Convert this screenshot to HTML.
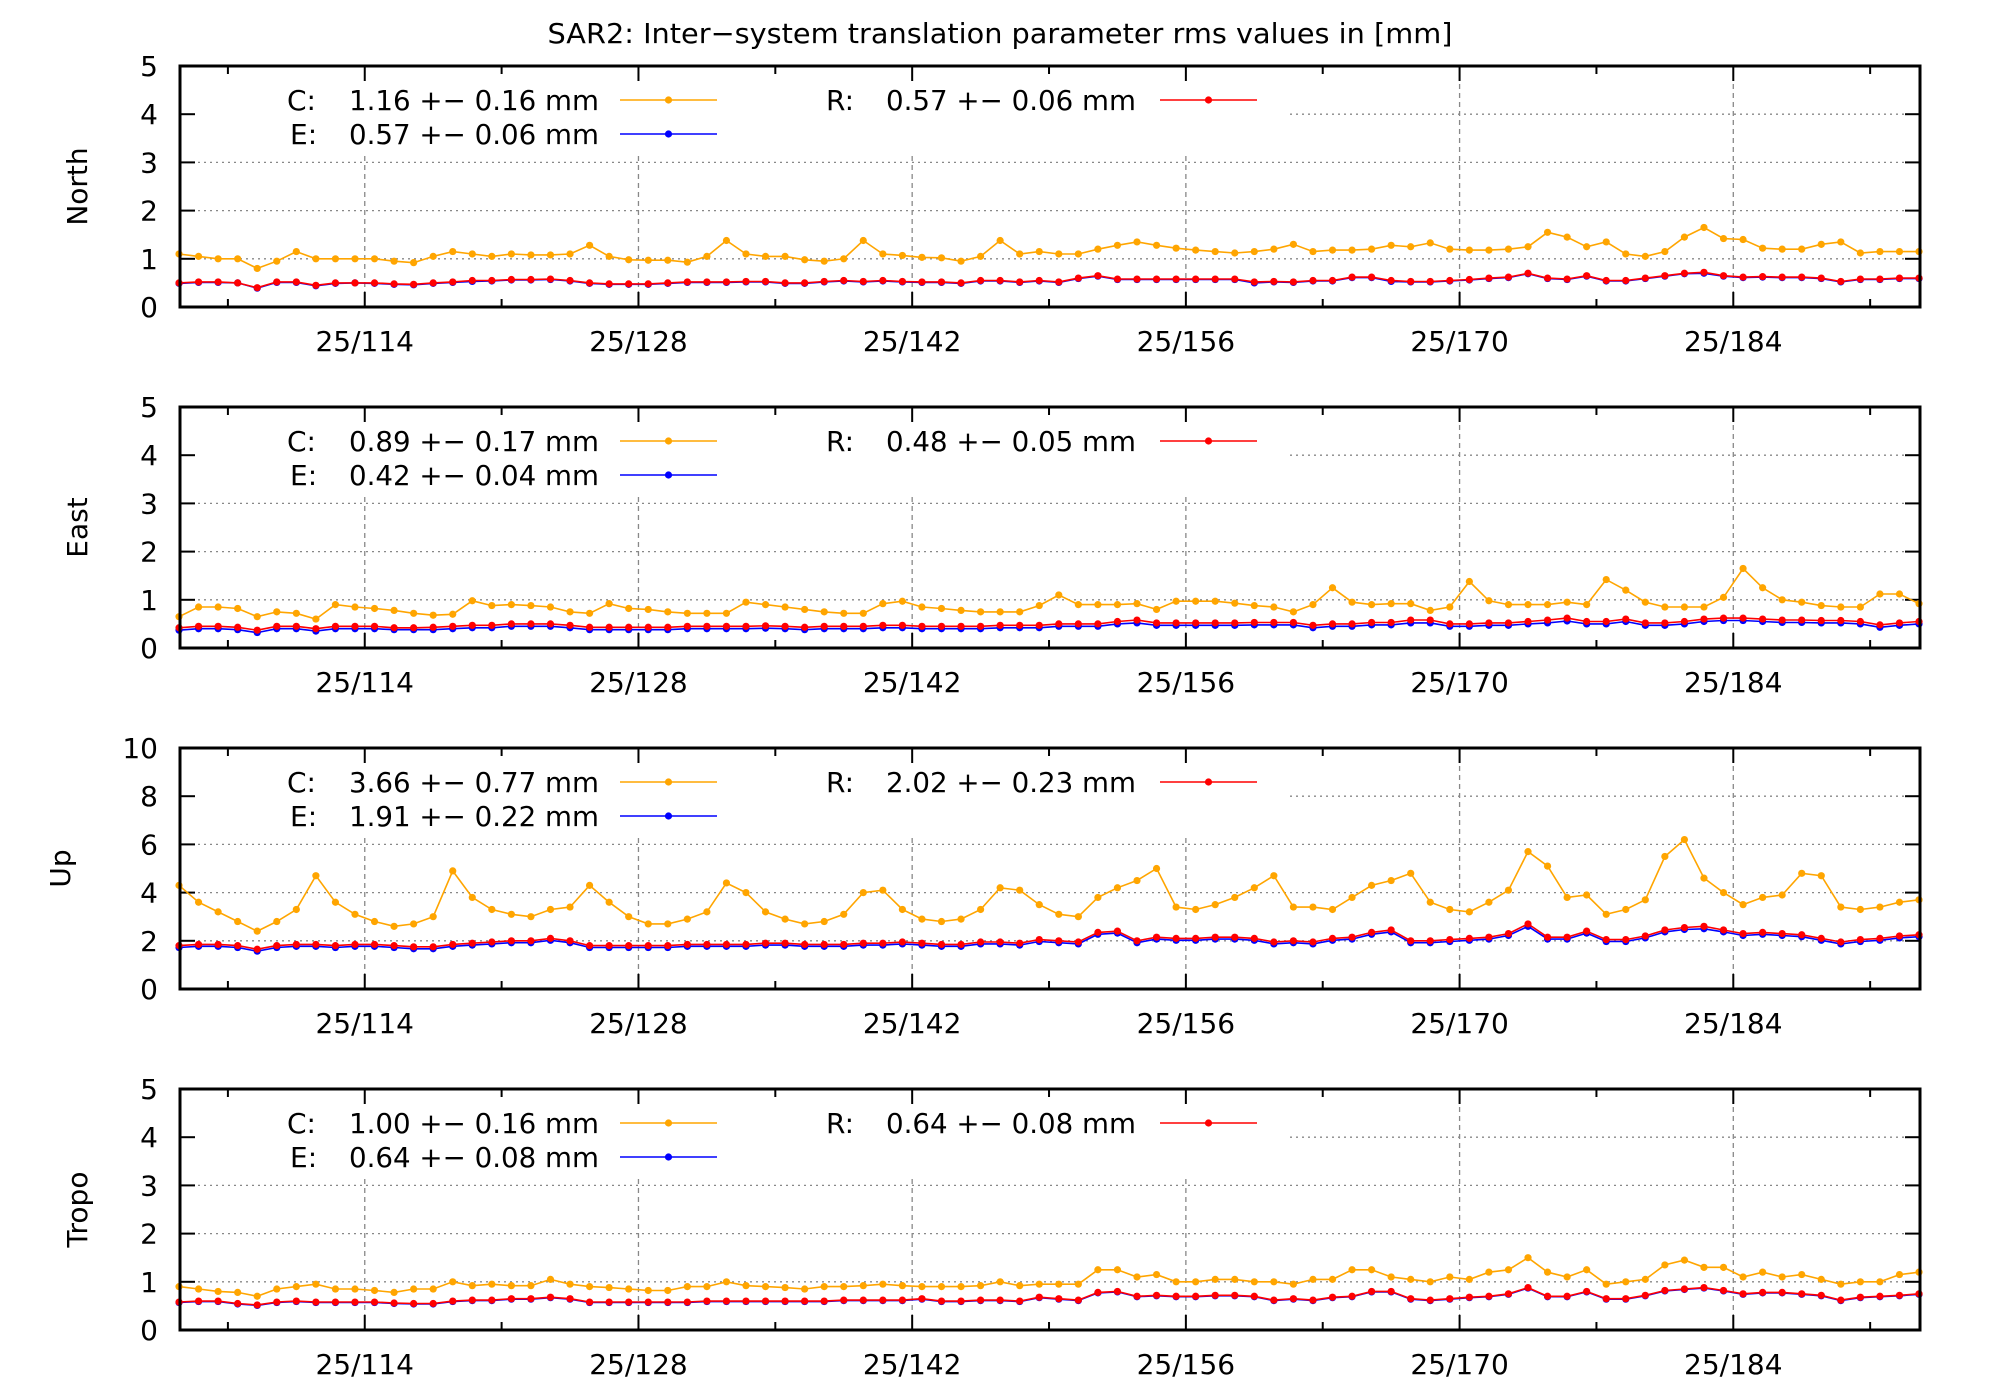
<!DOCTYPE html>
<html><head><meta charset="utf-8"><style>
html,body{margin:0;padding:0;background:#fff;}
svg{display:block;font-family:"DejaVu Sans","Liberation Sans",sans-serif;}
</style></head><body>
<svg id="chart" width="2000" height="1400" viewBox="0 0 2000 1400" xmlns="http://www.w3.org/2000/svg">
<rect width="2000" height="1400" fill="#fff"/>
<text x="1000" y="43" font-size="28" text-anchor="middle" textLength="905" lengthAdjust="spacingAndGlyphs">SAR2: Inter−system translation parameter rms values in [mm]</text>
<g id="panels"></g>
</svg>
<script>
const dayStart = 104.5;
const xMin = 104.55, xMax = 193.55;
const majorTicks = [114,128,142,156,170,184];
const minorTicks = [107,121,135,149,163,177,191];
const panelNames = ["North","East","Up","Tropo"];
const yMaxes = [5,5,10,5];
const yTicks5 = [0,1,2,3,4,5];
const yTicks10 = [0,2,4,6,8,10];
const legendC = ["1.16 +− 0.16 mm","0.89 +− 0.17 mm","3.66 +− 0.77 mm","1.00 +− 0.16 mm"];
const legendE = ["0.57 +− 0.06 mm","0.42 +− 0.04 mm","1.91 +− 0.22 mm","0.64 +− 0.08 mm"];
const legendR = ["0.57 +− 0.06 mm","0.48 +− 0.05 mm","2.02 +− 0.23 mm","0.64 +− 0.08 mm"];

const cN = [1.1,1.05,1.0,1.0,0.8,0.95,1.15,1.0,1.0,1.0,1.0,0.95,0.92,1.05,1.15,1.1,1.05,1.1,1.08,1.08,1.1,1.28,1.05,0.98,0.97,0.97,0.93,1.05,1.38,1.1,1.05,1.05,0.98,0.95,1.0,1.38,1.1,1.07,1.03,1.02,0.95,1.05,1.38,1.1,1.15,1.1,1.1,1.2,1.28,1.35,1.28,1.22,1.18,1.15,1.12,1.15,1.2,1.3,1.15,1.18,1.18,1.2,1.28,1.25,1.33,1.2,1.18,1.18,1.2,1.25,1.55,1.45,1.25,1.35,1.1,1.05,1.15,1.45,1.65,1.42,1.4,1.22,1.2,1.2,1.3,1.35,1.12,1.15,1.15,1.15];
const eN = [0.49,0.51,0.51,0.5,0.39,0.51,0.51,0.44,0.49,0.5,0.49,0.47,0.46,0.49,0.51,0.53,0.54,0.56,0.56,0.57,0.54,0.49,0.47,0.47,0.47,0.49,0.51,0.51,0.51,0.52,0.52,0.49,0.49,0.52,0.54,0.52,0.54,0.52,0.51,0.51,0.49,0.54,0.54,0.51,0.54,0.51,0.59,0.64,0.57,0.57,0.57,0.57,0.57,0.57,0.57,0.5,0.52,0.51,0.54,0.54,0.61,0.61,0.53,0.52,0.52,0.54,0.56,0.59,0.61,0.69,0.59,0.57,0.64,0.54,0.54,0.59,0.64,0.69,0.7,0.64,0.61,0.62,0.61,0.61,0.59,0.52,0.57,0.57,0.59,0.59];
const rN = [0.5,0.52,0.52,0.5,0.4,0.52,0.52,0.45,0.5,0.5,0.5,0.48,0.47,0.5,0.52,0.55,0.55,0.57,0.57,0.58,0.55,0.5,0.48,0.48,0.48,0.5,0.52,0.52,0.52,0.53,0.53,0.5,0.5,0.53,0.55,0.53,0.55,0.53,0.52,0.52,0.5,0.55,0.55,0.52,0.55,0.52,0.6,0.65,0.58,0.58,0.58,0.58,0.58,0.58,0.58,0.52,0.53,0.52,0.55,0.55,0.62,0.62,0.55,0.53,0.53,0.55,0.57,0.6,0.62,0.7,0.6,0.58,0.65,0.55,0.55,0.6,0.65,0.7,0.72,0.65,0.62,0.63,0.62,0.62,0.6,0.53,0.58,0.58,0.6,0.6];

const cE = [0.65,0.85,0.85,0.82,0.65,0.75,0.72,0.6,0.9,0.85,0.82,0.78,0.72,0.68,0.7,0.98,0.88,0.9,0.88,0.85,0.75,0.72,0.92,0.82,0.8,0.75,0.72,0.72,0.72,0.95,0.9,0.85,0.8,0.75,0.72,0.72,0.92,0.97,0.85,0.82,0.78,0.75,0.75,0.75,0.88,1.1,0.9,0.9,0.9,0.92,0.8,0.97,0.97,0.97,0.93,0.88,0.85,0.75,0.9,1.25,0.95,0.9,0.92,0.92,0.78,0.85,1.38,0.98,0.9,0.9,0.9,0.95,0.9,1.42,1.2,0.95,0.85,0.85,0.85,1.05,1.65,1.25,1.0,0.95,0.88,0.85,0.85,1.12,1.12,0.92];
const eE = [0.37,0.4,0.4,0.38,0.32,0.4,0.4,0.35,0.4,0.4,0.4,0.38,0.38,0.38,0.4,0.42,0.42,0.45,0.45,0.45,0.42,0.38,0.38,0.38,0.38,0.38,0.4,0.4,0.4,0.4,0.41,0.4,0.38,0.4,0.4,0.4,0.42,0.42,0.4,0.4,0.4,0.4,0.42,0.42,0.42,0.45,0.45,0.45,0.5,0.52,0.47,0.47,0.47,0.47,0.47,0.48,0.48,0.48,0.42,0.45,0.45,0.48,0.48,0.52,0.52,0.45,0.45,0.47,0.47,0.5,0.52,0.56,0.5,0.5,0.55,0.47,0.47,0.5,0.55,0.57,0.57,0.55,0.53,0.53,0.52,0.52,0.5,0.43,0.47,0.5];
const rE = [0.42,0.45,0.45,0.43,0.37,0.45,0.45,0.4,0.45,0.45,0.45,0.42,0.42,0.43,0.45,0.47,0.47,0.5,0.5,0.5,0.47,0.43,0.43,0.43,0.43,0.43,0.45,0.45,0.45,0.45,0.46,0.45,0.43,0.45,0.45,0.45,0.47,0.47,0.45,0.45,0.45,0.45,0.47,0.47,0.47,0.5,0.5,0.5,0.55,0.58,0.52,0.52,0.52,0.52,0.52,0.53,0.53,0.53,0.47,0.5,0.5,0.53,0.53,0.58,0.58,0.5,0.5,0.52,0.52,0.55,0.58,0.62,0.55,0.55,0.6,0.52,0.52,0.55,0.6,0.62,0.62,0.6,0.58,0.58,0.57,0.57,0.55,0.48,0.52,0.55];

const cU = [4.3,3.6,3.2,2.8,2.4,2.8,3.3,4.7,3.6,3.1,2.8,2.6,2.7,3.0,4.9,3.8,3.3,3.1,3.0,3.3,3.4,4.3,3.6,3.0,2.7,2.7,2.9,3.2,4.4,4.0,3.2,2.9,2.7,2.8,3.1,4.0,4.1,3.3,2.9,2.8,2.9,3.3,4.2,4.1,3.5,3.1,3.0,3.8,4.2,4.5,5.0,3.4,3.3,3.5,3.8,4.2,4.7,3.4,3.4,3.3,3.8,4.3,4.5,4.8,3.6,3.3,3.2,3.6,4.1,5.7,5.1,3.8,3.9,3.1,3.3,3.7,5.5,6.2,4.6,4.0,3.5,3.8,3.9,4.8,4.7,3.4,3.3,3.4,3.6,3.7];
const eU = [1.72,1.77,1.77,1.72,1.57,1.72,1.77,1.77,1.72,1.77,1.77,1.72,1.67,1.67,1.77,1.82,1.87,1.92,1.92,2.02,1.92,1.72,1.72,1.72,1.72,1.72,1.77,1.77,1.77,1.77,1.82,1.82,1.77,1.77,1.77,1.82,1.82,1.87,1.82,1.77,1.77,1.87,1.87,1.82,1.97,1.92,1.87,2.27,2.32,1.92,2.07,2.02,2.02,2.07,2.07,2.02,1.87,1.92,1.87,2.02,2.07,2.27,2.37,1.92,1.92,1.97,2.02,2.07,2.22,2.6,2.07,2.07,2.32,1.97,1.97,2.12,2.37,2.47,2.5,2.37,2.22,2.27,2.22,2.17,2.02,1.87,1.97,2.02,2.12,2.17];
const rU = [1.8,1.85,1.85,1.8,1.65,1.8,1.85,1.85,1.8,1.85,1.85,1.8,1.75,1.75,1.85,1.9,1.95,2.0,2.0,2.1,2.0,1.8,1.8,1.8,1.8,1.8,1.85,1.85,1.85,1.85,1.9,1.9,1.85,1.85,1.85,1.9,1.9,1.95,1.9,1.85,1.85,1.95,1.95,1.9,2.05,2.0,1.95,2.35,2.4,2.0,2.15,2.1,2.1,2.15,2.15,2.1,1.95,2.0,1.95,2.1,2.15,2.35,2.45,2.0,2.0,2.05,2.1,2.15,2.3,2.7,2.15,2.15,2.4,2.05,2.05,2.2,2.45,2.55,2.6,2.45,2.3,2.35,2.3,2.25,2.1,1.95,2.05,2.1,2.2,2.25];

const cT = [0.9,0.85,0.8,0.78,0.7,0.85,0.9,0.95,0.85,0.85,0.82,0.78,0.85,0.85,1.0,0.92,0.95,0.92,0.92,1.05,0.95,0.9,0.88,0.85,0.82,0.82,0.9,0.9,1.0,0.92,0.9,0.88,0.85,0.9,0.9,0.92,0.95,0.92,0.9,0.9,0.9,0.92,1.0,0.92,0.95,0.95,0.95,1.25,1.25,1.1,1.15,1.0,1.0,1.05,1.05,1.0,1.0,0.95,1.05,1.05,1.25,1.25,1.1,1.05,1.0,1.1,1.05,1.2,1.25,1.5,1.2,1.1,1.25,0.95,1.0,1.05,1.35,1.45,1.3,1.3,1.1,1.2,1.1,1.15,1.05,0.95,1.0,1.0,1.15,1.2];
const eT = [0.57,0.59,0.59,0.54,0.51,0.57,0.59,0.57,0.57,0.57,0.57,0.55,0.54,0.54,0.59,0.61,0.61,0.64,0.64,0.67,0.64,0.57,0.57,0.57,0.57,0.57,0.57,0.59,0.59,0.59,0.59,0.59,0.59,0.59,0.61,0.61,0.61,0.61,0.64,0.59,0.59,0.61,0.61,0.59,0.67,0.64,0.61,0.77,0.79,0.69,0.71,0.69,0.69,0.71,0.71,0.69,0.61,0.64,0.61,0.67,0.69,0.79,0.79,0.64,0.61,0.64,0.67,0.69,0.74,0.87,0.69,0.69,0.79,0.64,0.64,0.71,0.81,0.84,0.87,0.81,0.74,0.77,0.77,0.74,0.71,0.61,0.67,0.69,0.71,0.74];
const rT = [0.58,0.6,0.6,0.55,0.52,0.58,0.6,0.58,0.58,0.58,0.58,0.56,0.55,0.55,0.6,0.62,0.62,0.65,0.65,0.68,0.65,0.58,0.58,0.58,0.58,0.58,0.58,0.6,0.6,0.6,0.6,0.6,0.6,0.6,0.62,0.62,0.62,0.62,0.65,0.6,0.6,0.62,0.62,0.6,0.68,0.65,0.62,0.78,0.8,0.7,0.72,0.7,0.7,0.72,0.72,0.7,0.62,0.65,0.62,0.68,0.7,0.8,0.8,0.65,0.62,0.65,0.68,0.7,0.75,0.88,0.7,0.7,0.8,0.65,0.65,0.72,0.82,0.85,0.88,0.82,0.75,0.78,0.78,0.75,0.72,0.62,0.68,0.7,0.72,0.75];

const seriesC = [cN,cE,cU,cT];
const seriesE = [eN,eE,eU,eT];
const seriesR = [rN,rE,rU,rT];

const NS = "http://www.w3.org/2000/svg";
const L = 180, R = 1920, H = 241;
const tops = [66, 407, 748, 1089];
const ylabX = [87,87,70,87];
function mk(tag, attrs, parent){const e=document.createElementNS(NS,tag);for(const k in attrs)e.setAttribute(k,attrs[k]);parent.appendChild(e);return e;}
function xS(d){return L+(d-xMin)/(xMax-xMin)*(R-L);}
const root=document.getElementById('panels');

panelNames.forEach((name,p)=>{
  const T=tops[p], B=T+H, ym=yMaxes[p];
  const yS=v=>B-v/ym*H;
  const g=mk('g',{},root);
  
  
  const ticks = ym===10?yTicks10:yTicks5;
  ticks.forEach(t=>{ if(t>0&&t<ym){ const gl=mk('line',{x1:L,x2:R,y1:yS(t),y2:yS(t),stroke:'#888','stroke-width':1.3,'stroke-dasharray':'2,4'},g);   }});
  majorTicks.forEach(t=>{ const gl=mk('line',{x1:xS(t),x2:xS(t),y1:T,y2:B,stroke:'#888','stroke-width':1.3,'stroke-dasharray':'5,4'},g);   });
  const lb=mk('rect',{x:L+2,y:T+2,width:1285-L,height:86,fill:'#fff'},g);
  
  
  ticks.forEach(t=>{
    mk('line',{x1:L,x2:L+15,y1:yS(t),y2:yS(t),stroke:'#000','stroke-width':2},g);
    mk('line',{x1:R-15,x2:R,y1:yS(t),y2:yS(t),stroke:'#000','stroke-width':2},g);
    const tl=mk('text',{x:158,y:yS(t)+10,'font-size':28,'text-anchor':'end'},g);
    tl.textContent=t;
    
    
  });
  majorTicks.forEach(t=>{
    mk('line',{x1:xS(t),x2:xS(t),y1:B,y2:B-15,stroke:'#000','stroke-width':2},g);
    mk('line',{x1:xS(t),x2:xS(t),y1:T,y2:T+15,stroke:'#000','stroke-width':2},g);
    const tl=mk('text',{x:xS(t),y:B+44,'font-size':28,'text-anchor':'middle'},g);
    tl.textContent='25/'+t;
    
    
  });
  minorTicks.forEach(t=>{
    mk('line',{x1:xS(t),x2:xS(t),y1:B,y2:B-8,stroke:'#000','stroke-width':2},g);
    mk('line',{x1:xS(t),x2:xS(t),y1:T,y2:T+8,stroke:'#000','stroke-width':2},g);
  });
  const yl=mk('text',{x:ylabX[p],y:T+H/2,'font-size':28,'text-anchor':'middle',transform:`rotate(-90 ${ylabX[p]} ${T+H/2})`},g);
  yl.textContent=name;
  
  
  const drawS=(arr,color,nm)=>{
    const sg=mk('g',{},g);
    
    
    const pts=arr.map((v,i)=>[xS(dayStart+i),yS(v)]);
    const pl=mk('polyline',{points:pts.map(q=>q[0].toFixed(1)+','+q[1].toFixed(1)).join(' '),fill:'none',stroke:color,'stroke-width':1.6},sg);
    
    
    pts.forEach(q=>{
      const c=mk('circle',{cx:q[0],cy:q[1],r:3.6,fill:color},sg);
      
      
    });
  };
  drawS(seriesC[p],'#ffa500','c');
  drawS(seriesE[p],'#0000ff','e');
  drawS(seriesR[p],'#ff0000','r');
  const leg=(lbl,val,lx,vx,l1,l2,yy,color,nm)=>{
    const lg=mk('g',{},g);
    
    
    const a=mk('text',{x:lx,y:yy+10,'font-size':28},lg); a.textContent=lbl;
    const b=mk('text',{x:vx,y:yy+10,'font-size':28,textLength:250,lengthAdjust:'spacingAndGlyphs'},lg); b.textContent=val;
    mk('line',{x1:l1,x2:l2,y1:yy,y2:yy,stroke:color,'stroke-width':1.6},lg);
    mk('circle',{cx:(l1+l2)/2,cy:yy,r:3.6,fill:color},lg);
  };
  leg('C:',legendC[p],287,349,620,717,T+34,'#ffa500','c');
  leg('E:',legendE[p],290,349,620,717,T+68,'#0000ff','e');
  leg('R:',legendR[p],826,886,1160,1257,T+34,'#ff0000','r');
  const fr=mk('rect',{x:L,y:T,width:R-L,height:H,fill:'none',stroke:'#000','stroke-width':3},g);
  
  
});
</script>
</body></html>
